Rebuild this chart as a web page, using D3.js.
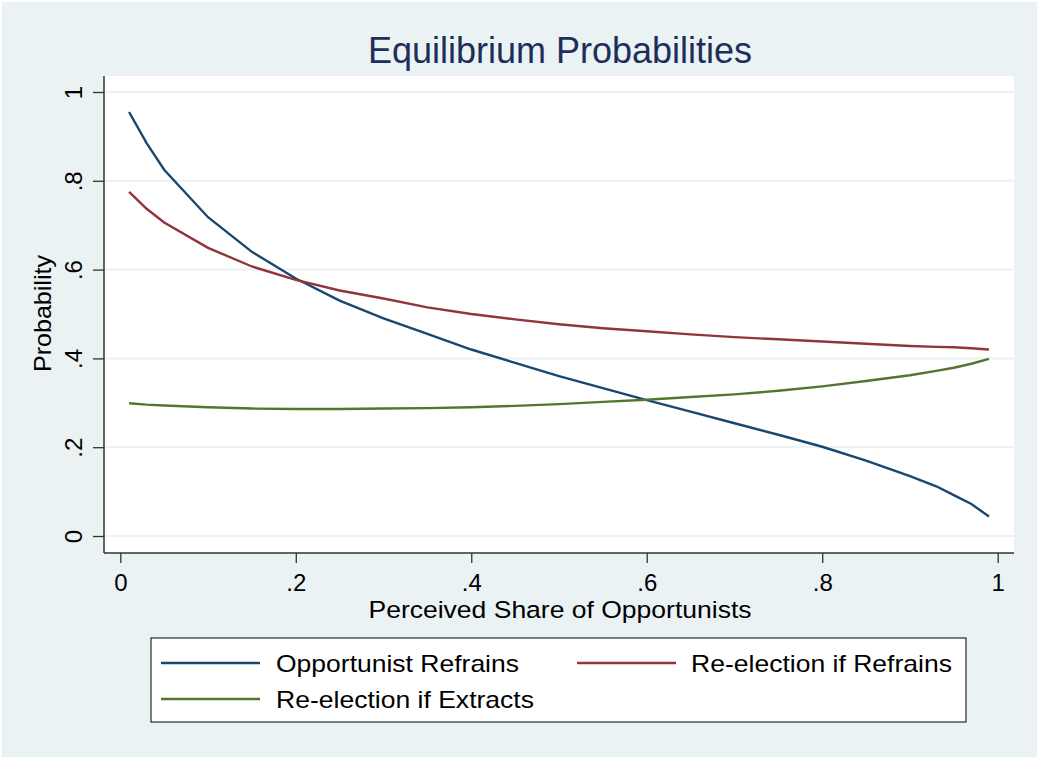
<!DOCTYPE html>
<html><head><meta charset="utf-8">
<script src="https://d3js.org/d3.v7.min.js"></script>
<style>body{margin:0;background:#fff;} text{font-family:"Liberation Sans",Arial,sans-serif;}</style>
</head><body><svg id="c" width="1039" height="759"></svg>
<script>
const shares = [0.01,0.03,0.05,0.1,0.15,0.2,0.25,0.3,0.35,0.4,0.45,0.5,0.55,0.6,0.65,0.7,0.75,0.8,0.85,0.9,0.93,0.95,0.97,0.99];
const opportunistRefrains = [0.955,0.885,0.825,0.718,0.64,0.58,0.53,0.49,0.455,0.42,0.39,0.36,0.333,0.306,0.28,0.254,0.228,0.201,0.17,0.135,0.112,0.092,0.072,0.044];
const reelectRefrains = [0.775,0.737,0.706,0.649,0.607,0.577,0.553,0.535,0.515,0.5,0.488,0.477,0.468,0.461,0.454,0.448,0.443,0.438,0.433,0.428,0.426,0.425,0.423,0.42];
const reelectExtracts = [0.299,0.296,0.294,0.29,0.287,0.286,0.286,0.287,0.288,0.29,0.293,0.297,0.302,0.307,0.313,0.319,0.327,0.337,0.349,0.362,0.372,0.379,0.388,0.399];
const xTicks = [0,0.2,0.4,0.6,0.8,1];
const xTickLabels = ["0",".2",".4",".6",".8","1"];
const yTicks = [0,0.2,0.4,0.6,0.8,1];
const yTickLabels = ["0",".2",".4",".6",".8","1"];
const seriesNames = ["Opportunist Refrains","Re-election if Refrains","Re-election if Extracts"];
const colors = ["#1A476F","#90353B","#55752F"];

const svg = d3.select("#c");
svg.append("rect").attr("x",2).attr("y",2).attr("width",1035).attr("height",755).attr("fill","#EAF2F3");
const plot = {l:104,t:76,r:1014,b:553};
svg.append("rect").attr("x",plot.l).attr("y",plot.t).attr("width",plot.r-plot.l).attr("height",plot.b-plot.t).attr("fill","#fff");

const x = d3.scaleLinear().domain([0,1]).range([120.3,997.7]);
const y = d3.scaleLinear().domain([0,1]).range([536,92]);

// grid
svg.append("g").selectAll("line").data(yTicks).join("line")
  .attr("x1",plot.l).attr("x2",plot.r).attr("y1",d=>y(d)).attr("y2",d=>y(d))
  .attr("stroke","#EAF2F3").attr("stroke-width",2);

// y axis
const ya = svg.append("g").attr("transform",`translate(${plot.l},0)`)
  .call(d3.axisLeft(y).tickValues(yTicks).tickFormat((d,i)=>yTickLabels[i]).tickSize(11).tickSizeOuter(0));
ya.select(".domain").remove();
ya.selectAll(".tick line").attr("stroke","#333").attr("stroke-width",1.3);
ya.selectAll(".tick text").attr("font-size",24).attr("fill","#000")
  .attr("x",0).attr("y",0).attr("dy",null)
  .attr("text-anchor","middle")
  .attr("transform","translate(-22,0) rotate(-90)");
svg.append("line").attr("x1",plot.l).attr("x2",plot.l).attr("y1",plot.t).attr("y2",plot.b).attr("stroke","#333").attr("stroke-width",1.5);

// x axis
const xa = svg.append("g").attr("transform",`translate(0,${plot.b})`)
  .call(d3.axisBottom(x).tickValues(xTicks).tickFormat((d,i)=>xTickLabels[i]).tickSize(10).tickSizeOuter(0));
xa.select(".domain").remove();
xa.selectAll(".tick line").attr("stroke","#333").attr("stroke-width",1.3);
xa.selectAll(".tick text").attr("font-size",24).attr("fill","#000").attr("y",37.5).attr("dy",null);
svg.append("line").attr("x1",plot.l).attr("x2",plot.r).attr("y1",plot.b).attr("y2",plot.b).attr("stroke","#333").attr("stroke-width",1.5);

// lines
const series = [opportunistRefrains, reelectRefrains, reelectExtracts];
const line = d3.line().x((d,i)=>x(shares[i])).y(d=>y(d));
series.forEach((s,k)=>{
  svg.append("path").datum(s).attr("d",line).attr("fill","none").attr("stroke",colors[k]).attr("stroke-width",2.4);
});

// titles
svg.append("text").attr("x",560).attr("y",63).attr("text-anchor","middle").attr("font-size",36).attr("fill","#1E2E5A").text("Equilibrium Probabilities");
svg.append("text").attr("x",560).attr("y",618).attr("text-anchor","middle").attr("font-size",24.5)
  .attr("textLength",383).attr("lengthAdjust","spacingAndGlyphs").attr("fill","#000").text("Perceived Share of Opportunists");
svg.append("text").attr("transform","translate(51,313.5) rotate(-90)").attr("text-anchor","middle").attr("font-size",24)
  .attr("textLength",117).attr("lengthAdjust","spacingAndGlyphs").attr("fill","#000").text("Probability");

// legend
svg.append("rect").attr("x",151).attr("y",638).attr("width",815).attr("height",84).attr("fill","#fff").attr("stroke","#000").attr("stroke-width",1);
const legPos = [[161,663],[577,663],[161,699]];
const legTextX = [276,691,276];
const legTextLen = [243,261,258];
seriesNames.forEach((n,k)=>{
  const [lx,ly]=legPos[k];
  svg.append("line").attr("x1",lx).attr("x2",lx+99).attr("y1",ly).attr("y2",ly).attr("stroke",colors[k]).attr("stroke-width",2.6);
  svg.append("text").attr("x",legTextX[k]).attr("y",ly+9).attr("font-size",24)
    .attr("textLength",legTextLen[k]).attr("lengthAdjust","spacingAndGlyphs").attr("fill","#000").text(n);
});
</script></body></html>
